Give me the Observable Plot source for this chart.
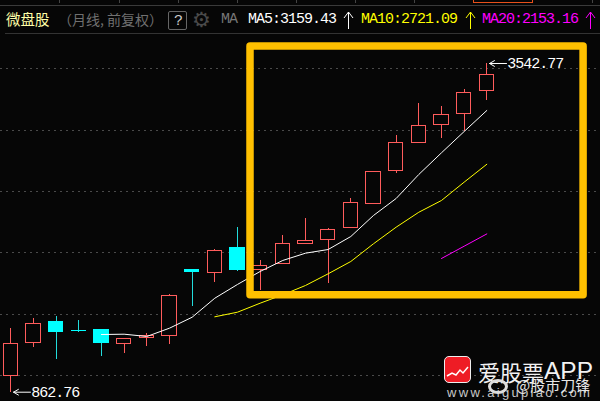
<!DOCTYPE html>
<html lang="zh">
<head>
<meta charset="utf-8">
<script src="https://cdn.jsdelivr.net/npm/d3@7"></script>
<script src="https://cdn.jsdelivr.net/npm/@observablehq/plot@0.6"></script>
<style>
html,body{margin:0;padding:0;background:#060606;overflow:hidden}
#page{position:relative;width:600px;height:401px;overflow:hidden}
#head{position:relative;width:600px;height:34px}
#head span,#head i,#head svg,#mark span,#mark i{position:absolute;display:block;white-space:nowrap;font-style:normal}
.mono{font-family:"Liberation Mono",monospace;font-size:15px;letter-spacing:-1px;line-height:16px;top:12px}
.cjk{font-family:"Noto Sans CJK SC",sans-serif}
#chart{display:block}
#chart svg{display:block;background:transparent}
#chart svg text{letter-spacing:-1px}
#mark{position:absolute;left:0;top:0;width:600px;height:401px;pointer-events:none}
</style>
</head>
<body>
<div id="page">
<div id="head">
  <i style="left:0;top:5px;width:600px;height:1px;background:#3a3a3a"></i>
  <i style="left:59px;top:0;width:1px;height:3px;background:#444"></i>
  <i style="left:119px;top:0;width:1px;height:3px;background:#444"></i>
  <i style="left:178px;top:0;width:1px;height:3px;background:#444"></i>
  <i style="left:237px;top:0;width:1px;height:3px;background:#444"></i>
  <i style="left:296px;top:0;width:1px;height:3px;background:#444"></i>
  <i style="left:355px;top:0;width:1px;height:3px;background:#444"></i>
  <i style="left:414px;top:0;width:1px;height:3px;background:#444"></i>
  <i style="left:473px;top:0;width:60px;height:3px;border:solid #e8501a;border-width:0 1px 1px 1px;box-sizing:border-box"></i>
  <i style="left:592px;top:0;width:1px;height:3px;background:#444"></i>
  <i style="left:5px;top:33px;width:595px;height:1px;background:#333"></i>
  <span class="cjk" style="left:6px;top:8px;font-size:14.5px;line-height:22px;color:#ffffa8">微盘股</span>
  <span class="cjk" style="left:58px;top:9px;font-size:14px;line-height:20px;color:#707070">（月线, 前复权）</span>
  <i style="left:168px;top:11px;width:19px;height:19px;border:1px solid #666;border-radius:2px;box-sizing:border-box"></i>
  <span class="mono" style="left:174px;top:14px;color:#ccc">?</span>
  <span style="left:192px;top:5px;font-family:'DejaVu Sans';font-size:21px;line-height:30px;color:#4a4a4a">⚙</span>
  <span class="mono" style="left:221px;color:#777">MA</span>
  <span class="mono" style="left:248px;color:#fff">MA5:3159.43</span>
  <svg style="left:343px;top:11px" width="11" height="19" viewBox="0 0 11 19"><path d="M5.5 1V18M1 7L5.5 1L10 7" fill="none" stroke="#ffffff" stroke-width="1"/></svg>
  <span class="mono" style="left:361px;color:#ffff00">MA10:2721.09</span>
  <svg style="left:465px;top:11px" width="11" height="19" viewBox="0 0 11 19"><path d="M5.5 1V18M1 7L5.5 1L10 7" fill="none" stroke="#ffff00" stroke-width="1"/></svg>
  <span class="mono" style="left:482px;color:#ff00ff">MA20:2153.16</span>
  <svg style="left:585px;top:11px" width="11" height="19" viewBox="0 0 11 19"><path d="M5.5 1V18M1 7L5.5 1L10 7" fill="none" stroke="#ff00ff" stroke-width="1"/></svg>
</div>
<div id="chart"></div>
<div id="mark">
  <i style="left:444px;top:356px;width:27px;height:27px;background:#ee1c25;border:1.5px solid #eee;border-radius:5px;box-sizing:border-box"></i>
  <svg style="position:absolute;left:444px;top:356px" width="27" height="27" viewBox="0 0 27 27"><polyline points="3,20 8,17 12,19 16,14 19,17 24,11" fill="none" stroke="#fff" stroke-width="1.5"/></svg>
  <span class="cjk" style="left:478px;top:356px;font-size:22px;line-height:30px;color:#f2f2f2">爱股票</span>
  <span style="left:544px;top:356px;font-family:'Liberation Sans';font-size:24.5px;line-height:30px;color:#f2f2f2">APP</span>
  <span style="left:447px;top:385px;font-family:'Liberation Sans';font-size:13px;line-height:16px;letter-spacing:2.3px;color:#c8c8c8">www.aigupiao.com</span>
  <i style="left:488px;top:379px;width:20px;height:15px;border:3px solid #ddd;border-radius:50%;box-sizing:border-box"></i>
  <span class="cjk" style="left:516px;top:375px;font-size:15px;line-height:20px;color:#e6e6e6">@股市刀锋</span>
</div>
</div>
<script>
const background = "#060606";
const red = "#ff5c5c";
const cyan = "#00ffff";
const months = d3.range(22);
const opens  = [993,1262.3,1431,1363.4,1365.8,1254,1303,1319.3,1863.1,1833,2034.4,1860.7,1906.3,2069.4,2102,2199.9,2395.5,2664.6,2892.9,3039.6,3129.3,3316.8];
const closes = [1257.4,1420.4,1349.5,1360,1259.8,1298.2,1322.6,1648.7,1838.7,2015.6,1863.1,1893.3,2072.7,2097.1,2186.8,2406.9,2659.7,2896.1,3034.7,3124.4,3303.8,3450.5];
const highs  = [1382.1,1463.6,1480,1447.3,1365.8,1298.2,1341.4,1659.3,1863.1,2023.7,2205.6,1936.5,2140.3,2276.5,2197.4,2442,2659.7,2955.6,3216.5,3192.1,3330.7,3542.77];
const lows   = [862.76,1229.7,1129.4,1349.5,1156,1178,1237.9,1251.7,1561.5,1757.2,1849,1692,1906.3,2069.4,1751.4,2199.9,2395.5,2648.3,2892.9,2933.6,2990.7,3243.4];
const ma5Months  = d3.range(4,22);
const ma5Values  = [1333,1335.6,1317,1384.5,1474,1629,1741,1847,1937,1996,2026,2132,2303.4,2442,2638,2814.6,2988,3159.43];
const ma10Months = d3.range(9,22);
const ma10Values = [1477.5,1515,1588.4,1656.9,1732.7,1828,1928.4,2072.7,2208,2330,2425.7,2575,2721.09];
const ma20Months = [19,20,21];
const ma20Values = [1952.8,2053,2153.16];
const gridPrices = [1000,1500,2000,2500,3000,3500];
const highlight = {x1:10.575,x2:25.27,y1:1653.6,y2:3681};
const extremes = [{m:0,v:862.76,label:"862.76"},{m:21,v:3542.77,label:"3542.77"}];

const candles = months.map(i=>({m:i,o:opens[i],c:closes[i],h:highs[i],l:lows[i]}));
const line = (ms,vs)=>ms.map((m,i)=>({m,v:vs[i]}));
const isUp = d=>d.c>=d.o;
const colorOf = d=>isUp(d)?red:cyan;
const halfBody = 0.315;

const plot = Plot.plot({
  width:600,height:367,margin:0,
  style:{background:"transparent"},
  x:{domain:[-0.4544,26.016],range:[0,600],axis:null},
  y:{domain:[786.9,3779.1],range:[367,0],axis:null},
  marks:[
    Plot.ruleY(gridPrices,{stroke:"#4a4a4a",strokeWidth:1,strokeDasharray:"1.5,4.5",shapeRendering:"crispEdges"}),
    Plot.ruleX(candles,{x:"m",y1:"l",y2:"h",stroke:d=>isUp(d)?red:"#22dcdc",strokeWidth:1,shapeRendering:"crispEdges"}),
    Plot.rect(candles,{
      x1:d=>d.m-halfBody,x2:d=>d.m+halfBody,
      y1:d=>Math.min(d.o,d.c),y2:d=>Math.max(d.o,d.c),
      fill:d=>isUp(d)?background:cyan,
      stroke:colorOf,strokeWidth:1,shapeRendering:"crispEdges"}),
    Plot.line(line(ma5Months,ma5Values),{x:"m",y:"v",stroke:"#ffffff",strokeWidth:1}),
    Plot.line(line(ma10Months,ma10Values),{x:"m",y:"v",stroke:"#ffff00",strokeWidth:1}),
    Plot.line(line(ma20Months,ma20Values),{x:"m",y:"v",stroke:"#ff00ff",strokeWidth:1}),
    Plot.rect([highlight],{x1:"x1",x2:"x2",y1:"y1",y2:"y2",fill:"none",stroke:"#ffc000",strokeWidth:7.5,strokeLinejoin:"round"}),
    Plot.arrow(extremes,{x1:d=>d.m+0.87,x2:d=>d.m+0.12,y1:"v",y2:"v",stroke:"#ffffff",strokeWidth:1,headLength:9,bend:0}),
    Plot.text(extremes,{x:d=>d.m+0.9,y:"v",text:"label",textAnchor:"start",fill:"#ffffff",fontFamily:"Liberation Mono",fontSize:15})
  ]
});
document.getElementById("chart").appendChild(plot);
</script>
</body>
</html>
